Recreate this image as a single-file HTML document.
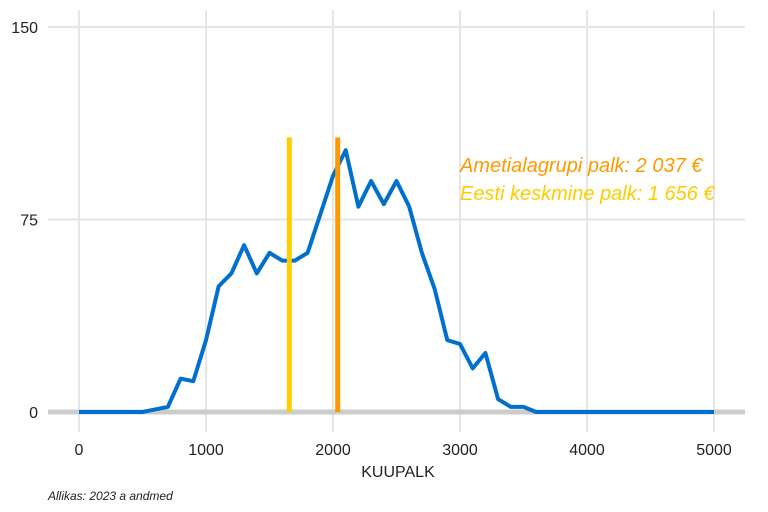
<!DOCTYPE html>
<html><head><meta charset="utf-8"><style>
html,body{margin:0;padding:0;background:#fff;}
svg{display:block;font-family:"Liberation Sans",sans-serif;}
</style></head><body>
<svg id="chart" width="768" height="512" viewBox="0 0 768 512" xmlns="http://www.w3.org/2000/svg">
<g id="grid"></g>
<g id="axes"></g>
<g id="marks"></g>
<text x="398" y="477" text-anchor="middle" font-size="16" fill="#222">KUUPALK</text>
<text x="48" y="500" font-size="12" font-style="italic" fill="#222">Allikas: 2023 a andmed</text>
<text x="460" y="172" font-size="20" font-style="italic" fill="#ff9900">Ametialagrupi palk: 2 037 €</text>
<text x="460" y="200" font-size="20" font-style="italic" fill="#ffcc00">Eesti keskmine palk: 1 656 €</text>
</svg>
<script>
const xs = [0,100,200,300,400,500,600,700,800,900,1000,1100,1200,1300,1400,1500,1600,1700,1800,1900,2000,2100,2200,2300,2400,2500,2600,2700,2800,2900,3000,3100,3200,3300,3400,3500,3600,3700,3800,3900,4000,4100,4200,4300,4400,4500,4600,4700,4800,4900,5000];
const counts = [0,0,0,0,0,0,1,2,13,12,28,49,54,65,54,62,59,59,62,77,92,102,80,90,81,90,80,62,48,28,26.5,17,23,5,2,2,0,0,0,0,0,0,0,0,0,0,0,0,0,0,0];
const xTicks = [0,1000,2000,3000,4000,5000];
const yTicks = [0,75,150];
const refLines = [1656, 2037];
const refColors = ["#ffcc00","#ff9900"];
const refTop = 107;

const NS="http://www.w3.org/2000/svg";
const X = v => 79 + v*(714-79)/5000;
const Y = v => 412 - v*(412-27)/150;
function mk(t,a,p){const e=document.createElementNS(NS,t);for(const k in a)e.setAttribute(k,a[k]);p.appendChild(e);return e;}
const grid=document.getElementById('grid'), axes=document.getElementById('axes'), marks=document.getElementById('marks');
yTicks.forEach(v=>{
  if(v!==0){const l=mk('line',{x1:48,x2:745,y1:Y(v),y2:Y(v),stroke:'#e6e6e6','stroke-width':2},grid);
  
  }
  const t=mk('text',{x:38,y:Y(v)+6,'text-anchor':'end','font-size':16,fill:'#222'},axes);
  t.textContent=v;
  
  
});
xTicks.forEach(v=>{
  const l=mk('line',{x1:X(v),x2:X(v),y1:10,y2:432,stroke:'#e6e6e6','stroke-width':2},grid);
  
  
  const t=mk('text',{x:X(v),y:455,'text-anchor':'middle','font-size':16,fill:'#222'},axes);
  t.textContent=v;
  
  
});
const zl=mk('line',{x1:48,x2:745,y1:Y(0),y2:Y(0),stroke:'#cccccc','stroke-width':5},axes);


const pts=xs.map((x,i)=>X(x)+','+Y(counts[i])).join(' ');
const pl=mk('polyline',{points:pts,fill:'none',stroke:'#0070cc','stroke-width':4,'stroke-linejoin':'round'},marks);


refLines.forEach((v,i)=>{
  const l=mk('line',{x1:X(v),x2:X(v),y1:Y(refTop),y2:Y(0),stroke:refColors[i],'stroke-width':5},marks);
  
  
});
</script>
</body></html>
